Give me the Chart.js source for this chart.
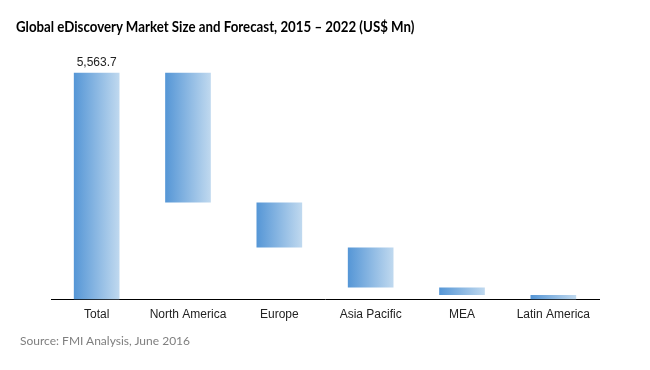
<!DOCTYPE html>
<html><head><meta charset="utf-8">
<script src="https://cdn.jsdelivr.net/npm/chart.js@4"></script>
<style>
html,body{margin:0;padding:0;background:#fff;}
#wrap{position:relative;width:650px;height:370px;overflow:hidden;}
#title{position:absolute;left:16px;top:17px;font:bold 15px Lato, "Open Sans", sans-serif;color:#000;white-space:nowrap;transform:scaleX(0.885);transform-origin:0 0;}
#source{position:absolute;left:20px;top:333px;font:12px Lato, "Open Sans", sans-serif;color:#7f7f7f;white-space:nowrap;}
canvas{position:absolute;left:0;top:0;}
</style></head><body>
<div id="wrap">
<canvas id="c" width="650" height="370"></canvas>
<div id="title">Global eDiscovery Market Size and Forecast, 2015 – 2022 (US$ Mn)</div>
<div id="source">Source: FMI Analysis, June 2016</div>
</div>
<script>
const categories = ["Total", "North America", "Europe", "Asia Pacific", "MEA", "Latin America"];
const segmentValues = [5563.7, 3183.5, 1100.0, 985.0, 180.0, 115.2];
const totalLabel = "5,563.7";
const yMax = 6000;

// build floating ranges for the waterfall
const ranges = [];
let level = segmentValues[0];
ranges.push([0, segmentValues[0]]);
for (let i = 1; i < segmentValues.length; i++) {
  const top = level;
  level = level - segmentValues[i];
  ranges.push([Math.max(level, 0), top]);
}

const BAR_FRAC = 0.5;
function gradFill(ctx) {
  const chart = ctx.chart;
  const xs = chart.scales && chart.scales.x;
  if (!xs || ctx.dataIndex === undefined || !xs.width) return '#5b9bd5';
  const cx = xs.getPixelForValue(ctx.dataIndex);
  const w = (xs.width / categories.length) * BAR_FRAC;
  const g = chart.ctx.createLinearGradient(cx - w / 2, 0, cx + w / 2, 0);
  g.addColorStop(0, '#5596d6');
  g.addColorStop(1, '#c0d9ef');
  return g;
}

const labelPlugin = {
  id: 'totalLabel',
  afterDatasetsDraw(chart) {
    const el = chart.getDatasetMeta(0).data[0];
    const c = chart.ctx;
    c.save();
    c.font = '12px "Liberation Sans", Arial, sans-serif';
    c.fillStyle = '#222';
    c.textAlign = 'center';
    c.textBaseline = 'bottom';
    c.fillText(totalLabel, el.x, el.y - 4);
    c.restore();
  }
};

new Chart(document.getElementById('c'), {
  type: 'bar',
  data: {
    labels: categories,
    datasets: [{
      data: ranges,
      backgroundColor: gradFill,
      borderWidth: 0,
      barPercentage: BAR_FRAC,
      categoryPercentage: 1.0
    }]
  },
  options: {
    responsive: false,
    animation: false,
    devicePixelRatio: 1,
    layout: { padding: { left: 51, right: 51, top: 55, bottom: 40 } },
    plugins: { legend: { display: false }, tooltip: { enabled: false }, title: { display: false } },
    scales: {
      x: {
        grid: { display: false, drawTicks: false },
        border: { display: true, color: '#000', width: 1 },
        ticks: { color: '#222', padding: 8, font: { family: '"Liberation Sans", Arial, sans-serif', size: 12 } }
      },
      y: { display: false, min: 0, max: yMax }
    }
  },
  plugins: [labelPlugin]
});
</script>
</body></html>
